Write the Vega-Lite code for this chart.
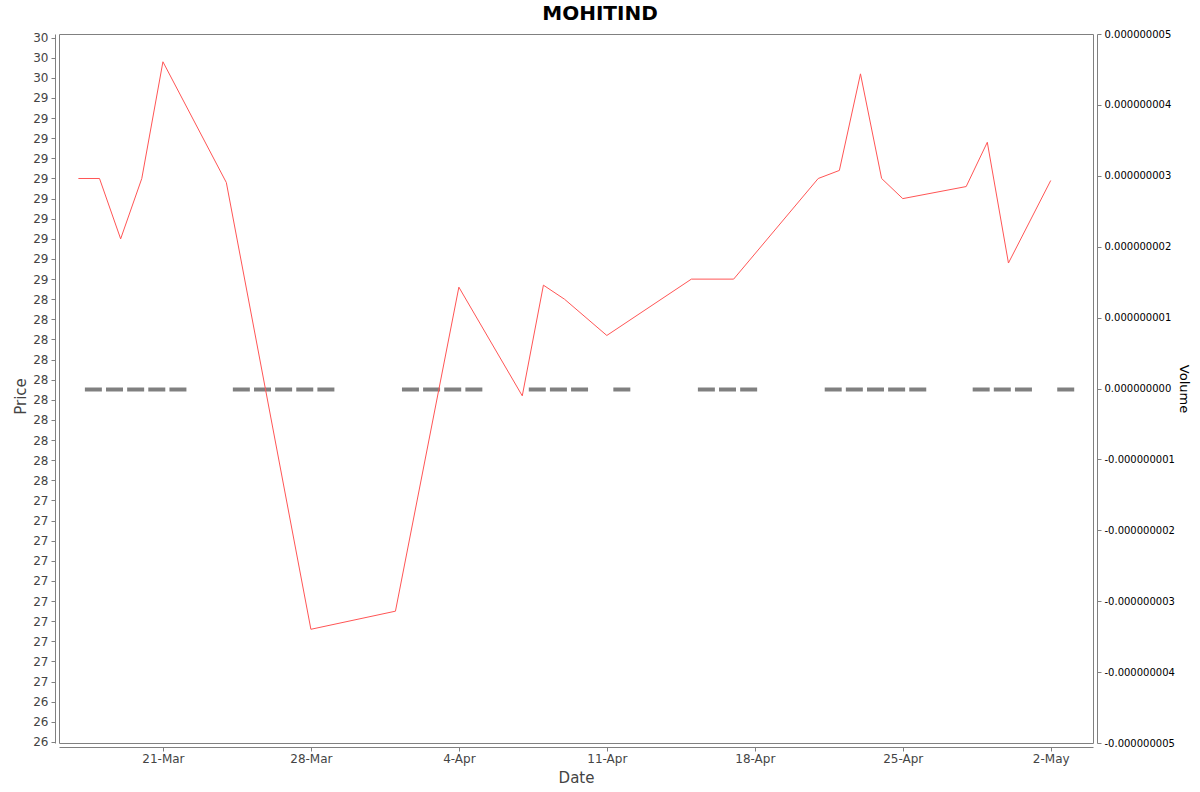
{
  "$schema": "https://vega.github.io/schema/vega-lite/v6.json",
  "autosize": {"type": "none"},
  "padding": {"left": 59, "top": 34, "right": 107, "bottom": 49},
  "width": 1034,
  "height": 709,
  "background": "white",
  "title": {
    "text": "MOHITIND",
    "font": "DejaVu Sans",
    "fontSize": 20,
    "fontWeight": "bold",
    "color": "#000000",
    "anchor": "middle",
    "dx": 24,
    "offset": 5
  },
  "data": {
    "values": [
      {"date": "2025-03-17", "price": 29.0, "volume": 0},
      {"date": "2025-03-18", "price": 29.0, "volume": 0},
      {"date": "2025-03-19", "price": 28.7, "volume": 0},
      {"date": "2025-03-20", "price": 29.0, "volume": 0},
      {"date": "2025-03-21", "price": 29.58, "volume": 0},
      {"date": "2025-03-24", "price": 28.98, "volume": 0},
      {"date": "2025-03-25", "price": null, "volume": 0},
      {"date": "2025-03-26", "price": null, "volume": 0},
      {"date": "2025-03-27", "price": null, "volume": 0},
      {"date": "2025-03-28", "price": 26.76, "volume": 0},
      {"date": "2025-04-01", "price": 26.85, "volume": 0},
      {"date": "2025-04-02", "price": null, "volume": 0},
      {"date": "2025-04-03", "price": null, "volume": 0},
      {"date": "2025-04-04", "price": 28.46, "volume": 0},
      {"date": "2025-04-07", "price": 27.92, "volume": 0},
      {"date": "2025-04-08", "price": 28.47, "volume": 0},
      {"date": "2025-04-09", "price": 28.4, "volume": 0},
      {"date": "2025-04-11", "price": 28.22, "volume": 0},
      {"date": "2025-04-15", "price": 28.5, "volume": 0},
      {"date": "2025-04-16", "price": null, "volume": 0},
      {"date": "2025-04-17", "price": 28.5, "volume": 0},
      {"date": "2025-04-21", "price": 29.0, "volume": 0},
      {"date": "2025-04-22", "price": 29.04, "volume": 0},
      {"date": "2025-04-23", "price": 29.52, "volume": 0},
      {"date": "2025-04-24", "price": 29.0, "volume": 0},
      {"date": "2025-04-25", "price": 28.9, "volume": 0},
      {"date": "2025-04-28", "price": 28.96, "volume": 0},
      {"date": "2025-04-29", "price": 29.18, "volume": 0},
      {"date": "2025-04-30", "price": 28.58, "volume": 0},
      {"date": "2025-05-02", "price": 28.99, "volume": 0}
    ]
  },
  "encoding": {
    "x": {
      "field": "date",
      "type": "temporal",
      "title": "Date",
      "scale": {
        "type": "utc",
        "domain": [
          {"year": 2025, "month": "mar", "date": 16, "hours": 2, "utc": true},
          {"year": 2025, "month": "may", "date": 4, "utc": true}
        ]
      },
      "axis": {
        "values": [
          {"year": 2025, "month": "mar", "date": 21, "utc": true},
          {"year": 2025, "month": "mar", "date": 28, "utc": true},
          {"year": 2025, "month": "apr", "date": 4, "utc": true},
          {"year": 2025, "month": "apr", "date": 11, "utc": true},
          {"year": 2025, "month": "apr", "date": 18, "utc": true},
          {"year": 2025, "month": "apr", "date": 25, "utc": true},
          {"year": 2025, "month": "may", "date": 2, "utc": true}
        ],
        "labelExpr": "utcFormat(datum.value, '%-d-%b')",
        "offset": 4,
        "grid": false,
        "labelPadding": 2,
        "titlePadding": 6
      }
    }
  },
  "layer": [
    {
      "mark": {
        "type": "tick",
        "orient": "horizontal",
        "size": 17,
        "thickness": 4,
        "color": "#808080",
        "opacity": 1,
        "xOffset": 15,
        "yOffset": 1
      },
      "encoding": {
        "y": {
          "field": "volume",
          "type": "quantitative",
          "title": "Volume",
          "scale": {"domain": [-0.000000005, 0.000000005], "nice": false, "zero": false},
          "axis": {
            "orient": "right",
            "offset": 4,
            "grid": false,
            "values": [-0.000000005, -0.000000004, -0.000000003, -0.000000002, -0.000000001, 0, 0.000000001, 0.000000002, 0.000000003, 0.000000004, 0.000000005],
            "labelExpr": "replace(format(datum.value, '.9f'), '\u2212', '-')",
            "labelColor": "#000000",
            "labelFontSize": 10,
            "titleFontSize": 13,
            "titleFontWeight": "normal",
            "titleColor": "#000000",
            "labelPadding": 3,
            "titlePadding": 2
          }
        }
      }
    },
    {
      "transform": [{"filter": "isValid(datum.price)"}],
      "mark": {"type": "line", "color": "#ff5555", "strokeWidth": 1},
      "encoding": {
        "y": {
          "field": "price",
          "type": "quantitative",
          "title": "Price",
          "scale": {"domain": [26.195, 29.718], "nice": false, "zero": false},
          "axis": {
            "orient": "left",
            "offset": 4,
            "grid": false,
            "values": [26.2, 26.3, 26.4, 26.5, 26.6, 26.7, 26.8, 26.9, 27, 27.1, 27.2, 27.3, 27.4, 27.5, 27.6, 27.7, 27.8, 27.9, 28, 28.1, 28.2, 28.3, 28.4, 28.5, 28.6, 28.7, 28.8, 28.9, 29, 29.1, 29.2, 29.3, 29.4, 29.5, 29.6, 29.7],
            "labelExpr": "format(datum.value, '.0f')",
            "labelPadding": 3,
            "titlePadding": 4,
            "titleY": 362
          }
        }
      }
    }
  ],
  "resolve": {"scale": {"y": "independent"}},
  "config": {
    "font": "DejaVu Sans",
    "view": {"stroke": "#808080", "strokeWidth": 1},
    "axis": {
      "domainColor": "#808080",
      "tickColor": "#808080",
      "tickSize": 4,
      "labelFont": "DejaVu Sans",
      "labelFontSize": 12,
      "labelColor": "#444444",
      "titleFont": "DejaVu Sans",
      "titleFontSize": 15,
      "titleFontWeight": "normal",
      "titleColor": "#444444"
    }
  }
}
